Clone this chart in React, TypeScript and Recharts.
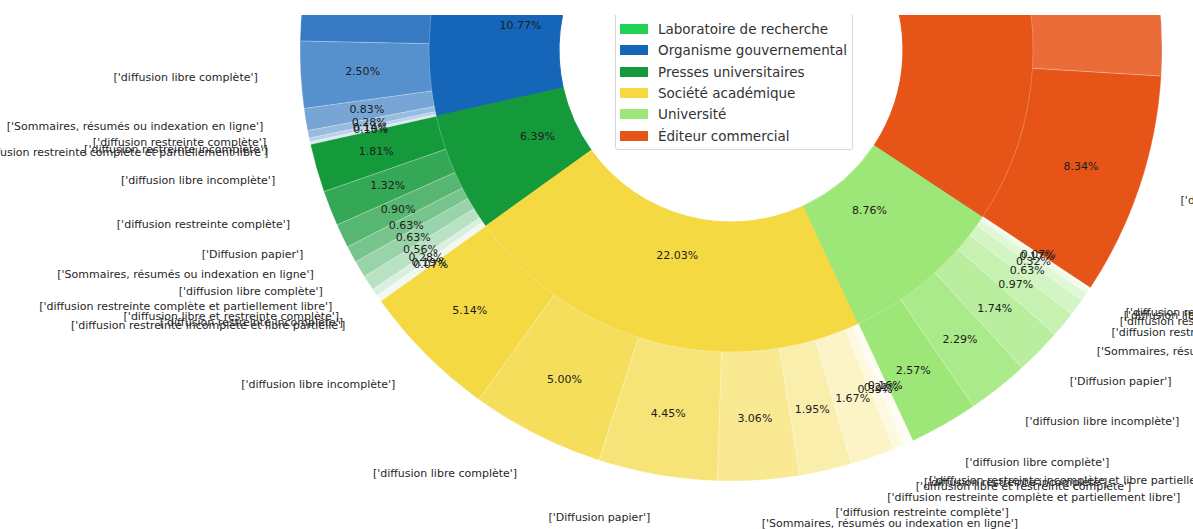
import { PieChart, Pie, Cell } from 'recharts';

// sub-category names (outer ring)
const LC = 'diffusion libre complète';
const LI = 'diffusion libre incomplète';
const RC = 'diffusion restreinte complète';
const RI = 'diffusion restreinte incomplète';
const DP = 'Diffusion papier';
const SR = 'Sommaires, résumés ou indexation en ligne';
const RCPL = 'diffusion restreinte complète et partiellement libre';
const LRC = 'diffusion libre et restreinte complète';
const RILP = 'diffusion restreinte incomplète et libre partielle';

const categories = [
  'Association',
  'Centre de recherche',
  'Fondation',
  'Laboratoire de recherche',
  'Organisme gouvernemental',
  'Presses universitaires',
  'Société académique',
  'Université',
  'Éditeur commercial',
];
const categoryShares = [3.12, 5.48, 2.05, 7.1, 10.77, 6.39, 22.03, 8.76, 34.3];
const categoryColors = ['#8d62c2', '#8a8a8a', '#1aa6b7', '#22d254', '#1566b9', '#149a3b', '#f4d943', '#9ce777', '#e65418'];

const subLabels: string[][] = [
  [LC, LI, DP],
  [LC, DP, LI],
  [LC, DP],
  [LC, LI, DP, SR],
  [DP, LI, LC, SR, RC, RI, RCPL],
  [LI, RC, DP, SR, LC, RCPL, LRC, RI, RILP],
  [LI, LC, DP, SR, RC, RCPL, LRC, RI, RILP],
  [LC, LI, DP, SR, RC, RI, LRC, RCPL],
  [LC, DP, LI, SR, RC, RI, RCPL, LRC, RILP],
];
const subValues: number[][] = [
  [1.8, 0.92, 0.4],
  [2.9, 1.65, 0.93],
  [1.3, 0.75],
  [3.4, 2.1, 1.05, 0.55],
  [3.95, 2.97, 2.5, 0.83, 0.28, 0.14, 0.1],
  [1.81, 1.32, 0.9, 0.63, 0.63, 0.56, 0.28, 0.19, 0.07],
  [5.14, 5.0, 4.45, 3.06, 1.95, 1.67, 0.39, 0.21, 0.16],
  [2.57, 2.29, 1.74, 0.97, 0.63, 0.32, 0.17, 0.07],
  [8.34, 7.85, 6.12, 4.3, 3.05, 2.21, 1.24, 0.72, 0.47],
];

const lighten = (hex: string, f: number) => {
  const n = parseInt(hex.slice(1), 16);
  const ch = [(n >> 16) & 255, (n >> 8) & 255, n & 255].map((c) => Math.round(c + (255 - c) * f));
  return `rgb(${ch[0]},${ch[1]},${ch[2]})`;
};

const innerData = categories.map((name, i) => ({ name, value: categoryShares[i], color: categoryColors[i] }));
const outerData = subValues.flatMap((vals, i) =>
  vals.map((value, j) => ({
    name: subLabels[i][j],
    value,
    color: lighten(categoryColors[i], Math.min(j * 0.14, 0.93)),
  }))
);

const CX = 731;
const CY = 50;
const RAD = Math.PI / 180;
const FONT = 'DejaVu Sans, sans-serif';

const innerLabel = (p: any) => {
  const a = -Number(p.midAngle) * RAD;
  const r = 212;
  return (
    <text x={Number(p.cx) + r * Math.cos(a)} y={Number(p.cy) + r * Math.sin(a)} textAnchor="middle"
      dominantBaseline="central" fontSize={11} fontFamily={FONT} fill="#1d1d1d">
      {innerData[p.index].value.toFixed(2)}%
    </text>
  );
};

const outerLabel = (p: any) => {
  const a = -Number(p.midAngle) * RAD;
  const cx = Number(p.cx);
  const cy = Number(p.cy);
  const d = outerData[p.index];
  return (
    <g>
      <text x={cx + 369 * Math.cos(a)} y={cy + 369 * Math.sin(a)} textAnchor="middle" dominantBaseline="central"
        fontSize={11} fontFamily={FONT} fill="#1d1d1d">
        {d.value.toFixed(2)}%
      </text>
      <text x={cx + 474 * Math.cos(a)} y={cy + 474 * Math.sin(a)} textAnchor={Math.cos(a) >= 0 ? 'start' : 'end'}
        dominantBaseline="central" fontSize={11} fontFamily={FONT} fill="#262626">
        {`['${d.name}']`}
      </text>
    </g>
  );
};

const ROW = 21.4;

export default function App() {
  return (
    <div style={{ position: 'absolute', left: 0, top: 0, width: 1193, height: 529, overflow: 'hidden', background: '#fff' }}>
      <PieChart width={1193} height={529} margin={{ top: 0, right: 0, bottom: 0, left: 0 }}>
        <Pie data={innerData} dataKey="value" cx={CX} cy={CY} innerRadius={172} outerRadius={302}
          startAngle={90} endAngle={450} label={innerLabel} labelLine={false} isAnimationActive={false}>
          {innerData.map((d, i) => (
            <Cell key={i} fill={d.color} stroke={d.color} strokeWidth={1} />
          ))}
        </Pie>
        <Pie data={outerData} dataKey="value" cx={CX} cy={CY} innerRadius={302} outerRadius={431}
          startAngle={90} endAngle={450} label={outerLabel} labelLine={false} isAnimationActive={false}>
          {outerData.map((d, i) => (
            <Cell key={i} fill={d.color} stroke="#ffffff" strokeOpacity={0.35} strokeWidth={0.6} />
          ))}
        </Pie>
      </PieChart>
      <div style={{
        position: 'absolute', left: 615, top: -53, width: 238, height: categories.length * ROW + 10,
        boxSizing: 'border-box', border: '1px solid #d6d6d6', borderRadius: 3,
        background: 'rgba(255,255,255,0.85)', paddingTop: 6, fontFamily: FONT, fontSize: 13.5, color: '#333',
      }}>
        {categories.map((c, i) => (
          <div key={c} style={{ height: ROW, display: 'flex', alignItems: 'center' }}>
            <span style={{ width: 28, height: 10, background: categoryColors[i], marginLeft: 4, marginRight: 10 }} />
            <span>{c}</span>
          </div>
        ))}
      </div>
      <div style={{ position: 'absolute', left: 0, top: 0, width: 1193, height: 15, background: '#fff' }} />
    </div>
  );
}
